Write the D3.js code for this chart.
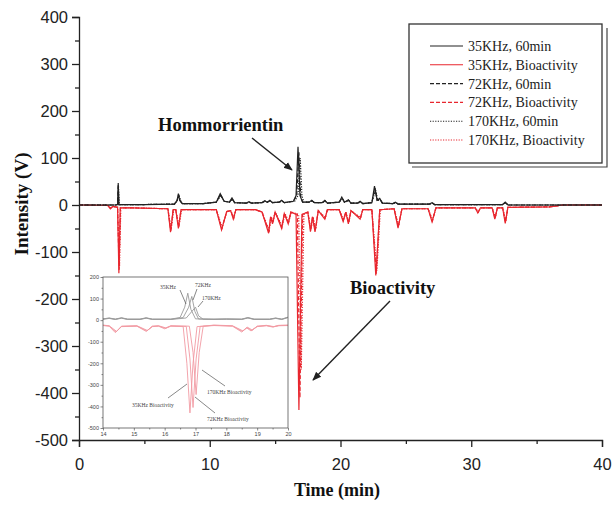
<!DOCTYPE html>
<html><head><meta charset="utf-8">
<script src="https://cdn.jsdelivr.net/npm/d3@7"></script>
<style>body{margin:0;background:#fff}svg{display:block}</style>
</head><body>
<svg id="c" width="615" height="507"></svg>
<script>
// ---------- DATA ----------
const xTicks = [0, 10, 20, 30, 40];
const yTicks = [-500, -400, -300, -200, -100, 0, 100, 200, 300, 400];
const insetXTicks = [14, 15, 16, 17, 18, 19, 20];
const insetYTicks = [-500, -400, -300, -200, -100, 0, 100, 200];
const legendLabels = ["35KHz, 60min", "35KHz, Bioactivity", "72KHz, 60min", "72KHz, Bioactivity", "170KHz, 60min", "170KHz, Bioactivity"];

// main chromatograms [time (min), intensity (V)]
const uv35 = [[0,0],[2.8,0],[2.95,1],[3.0,47],[3.05,1],[3.3,1],[5,1],[7.3,2],[7.5,10],[7.6,24],[7.7,10],[7.9,3],[9.5,3],[10.5,6],[10.8,24],[11.1,8],[11.5,6],[11.7,15],[11.9,5],[12.8,4],[13.0,7],[13.2,4],[14.0,5],[14.2,9],[14.4,6],[14.6,10],[14.8,5],[15.3,6],[15.5,10],[15.7,5],[16.4,8],[16.6,20],[16.75,124],[16.9,20],[17.1,6],[17.6,6],[17.8,10],[18.0,5],[18.6,5],[18.8,10],[19.0,4],[19.9,6],[20.1,17],[20.3,6],[20.6,11],[20.8,4],[21.3,4],[21.5,8],[21.7,3],[22.4,5],[22.6,40],[22.8,10],[23.0,14],[23.2,4],[24.0,3],[24.2,6],[24.4,2],[26.8,2],[27.0,5],[27.2,1],[32.4,1],[32.6,6],[32.8,0],[40,0]];
const bio35 = [[0,0],[2.2,-1],[2.4,-8],[2.6,-3],[2.95,-5],[3.05,-145],[3.15,-6],[4,-6],[6.8,-8],[7.0,-58],[7.2,-10],[7.4,-10],[7.6,-50],[7.8,-10],[10.5,-10],[10.9,-53],[11.3,-14],[11.6,-12],[11.8,-30],[12.0,-10],[13.5,-10],[14.0,-15],[14.5,-60],[14.65,-25],[14.8,-40],[15.0,-15],[15.5,-50],[15.7,-18],[16.0,-40],[16.2,-15],[16.6,-20],[16.82,-436],[17.05,-20],[17.5,-15],[17.7,-57],[17.85,-25],[18.05,-57],[18.3,-12],[18.8,-30],[19.0,-10],[19.9,-10],[20.2,-35],[20.4,-15],[20.6,-40],[20.8,-12],[21.5,-30],[21.7,-10],[22.4,-10],[22.7,-150],[23.0,-10],[24.1,-8],[24.4,-49],[24.7,-8],[26.7,-8],[27.0,-36],[27.3,-6],[30.3,-6],[30.5,-17],[30.7,-6],[31.6,-6],[31.8,-30],[32.0,-6],[32.4,-6],[32.6,-39],[32.8,-5],[36,-4],[37,0],[40,0]];
const uv72 = [[0,0],[2.8,0],[2.95,1],[3.0,44],[3.05,1],[3.3,1],[5,1],[7.3,2],[7.5,9],[7.62,22],[7.75,8],[7.9,3],[9.5,3],[10.5,6],[10.82,22],[11.1,8],[11.5,6],[11.72,13],[11.9,5],[12.8,4],[13.0,6],[13.2,4],[14.0,5],[14.22,8],[14.4,6],[14.62,9],[14.8,5],[15.3,6],[15.52,9],[15.7,5],[16.4,8],[16.65,20],[16.82,112],[16.95,20],[17.1,6],[17.6,6],[17.82,9],[18.0,5],[18.6,5],[18.82,9],[19.0,4],[19.9,6],[20.12,15],[20.3,6],[20.62,10],[20.8,4],[21.3,4],[21.52,7],[21.7,3],[22.4,5],[22.64,36],[22.8,10],[23.02,12],[23.2,4],[24.0,3],[24.22,5],[24.4,2],[26.8,2],[27.02,4],[27.2,1],[32.4,1],[32.62,5],[32.8,0],[40,0]];
const bio72 = [[0,0],[2.2,-1],[2.4,-7],[2.6,-3],[2.95,-5],[3.07,-138],[3.17,-6],[4,-6],[6.8,-8],[7.02,-55],[7.2,-10],[7.4,-10],[7.62,-47],[7.8,-10],[10.5,-10],[10.92,-50],[11.3,-14],[11.6,-12],[11.82,-28],[12.0,-10],[13.5,-10],[14.0,-15],[14.52,-56],[14.67,-25],[14.82,-38],[15.0,-15],[15.52,-47],[15.7,-18],[16.02,-37],[16.2,-15],[16.7,-20],[16.9,-410],[17.1,-20],[17.5,-15],[17.72,-54],[17.87,-25],[18.07,-54],[18.3,-12],[18.82,-28],[19.0,-10],[19.9,-10],[20.22,-33],[20.4,-15],[20.62,-38],[20.8,-12],[21.52,-28],[21.7,-10],[22.4,-10],[22.74,-146],[23.0,-10],[24.1,-8],[24.42,-46],[24.7,-8],[26.7,-8],[27.02,-34],[27.3,-6],[30.3,-6],[30.52,-16],[30.7,-6],[31.6,-6],[31.82,-28],[32.0,-6],[32.4,-6],[32.62,-36],[32.8,-5],[36,-4],[37,0],[40,0]];
const uv170 = [[0,0],[2.8,0],[2.95,1],[3.02,40],[3.08,1],[3.3,1],[5,1],[7.3,2],[7.5,8],[7.65,20],[7.8,8],[7.9,3],[9.5,3],[10.5,6],[10.85,20],[11.1,8],[11.5,6],[11.75,12],[11.9,5],[12.8,4],[13.0,6],[13.2,4],[14.0,5],[14.25,8],[14.4,6],[14.65,8],[14.8,5],[15.3,6],[15.55,8],[15.7,5],[16.5,8],[16.75,20],[16.92,100],[17.05,20],[17.2,6],[17.6,6],[17.85,9],[18.0,5],[18.6,5],[18.85,8],[19.0,4],[19.9,6],[20.15,14],[20.3,6],[20.65,9],[20.8,4],[21.3,4],[21.55,6],[21.7,3],[22.4,5],[22.68,33],[22.85,10],[23.05,11],[23.2,4],[24.0,3],[24.25,5],[24.4,2],[26.8,2],[27.05,4],[27.2,1],[32.4,1],[32.65,5],[32.8,0],[40,0]];
const bio170 = [[0,0],[2.2,-1],[2.4,-6],[2.6,-3],[2.95,-5],[3.1,-130],[3.2,-6],[4,-6],[6.8,-8],[7.05,-52],[7.25,-10],[7.4,-10],[7.65,-45],[7.85,-10],[10.5,-10],[10.95,-48],[11.3,-14],[11.6,-12],[11.85,-27],[12.0,-10],[13.5,-10],[14.0,-15],[14.55,-54],[14.7,-25],[14.85,-36],[15.0,-15],[15.55,-45],[15.75,-18],[16.05,-35],[16.25,-15],[16.8,-20],[17.0,-350],[17.2,-20],[17.5,-15],[17.75,-52],[17.9,-25],[18.1,-52],[18.3,-12],[18.85,-27],[19.0,-10],[19.9,-10],[20.25,-32],[20.4,-15],[20.65,-36],[20.8,-12],[21.55,-27],[21.7,-10],[22.4,-10],[22.78,-140],[23.05,-10],[24.1,-8],[24.45,-44],[24.7,-8],[26.7,-8],[27.05,-32],[27.3,-6],[30.3,-6],[30.55,-15],[30.7,-6],[31.6,-6],[31.85,-27],[32.0,-6],[32.4,-6],[32.65,-35],[32.8,-5],[36,-4],[37,0],[40,0]];

// inset (14-20 min) traces
const insUv35 = [[14,6],[14.2,10],[14.4,5],[14.6,11],[14.8,5],[15.2,5],[15.4,11],[15.6,5],[16.2,5],[16.5,12],[16.65,60],[16.75,125],[16.85,50],[17.0,6],[17.6,5],[18.0,6],[18.5,5],[18.7,12],[18.9,5],[19.4,5],[19.6,10],[19.8,5],[20,14]];
const insUv72 = [[14,5],[14.2,9],[14.4,4],[14.6,10],[14.8,4],[15.2,4],[15.4,10],[15.6,4],[16.2,4],[16.6,12],[16.78,60],[16.88,110],[16.98,40],[17.1,5],[17.6,4],[18.0,5],[18.5,4],[18.7,11],[18.9,4],[19.4,4],[19.6,9],[19.8,4],[20,13]];
const insUv170 = [[14,4],[14.2,8],[14.4,3],[14.6,9],[14.8,3],[15.2,3],[15.4,9],[15.6,3],[16.2,3],[16.7,10],[16.88,40],[17.0,60],[17.1,20],[17.25,4],[17.6,3],[18.0,4],[18.5,3],[18.7,10],[18.9,3],[19.4,3],[19.6,8],[19.8,3],[20,12]];
const insBio35 = [[14,-25],[14.2,-28],[14.4,-58],[14.6,-30],[15.1,-28],[15.4,-52],[15.6,-30],[15.8,-28],[16.0,-40],[16.2,-28],[16.6,-30],[16.72,-200],[16.82,-430],[16.92,-200],[17.05,-30],[17.6,-25],[18.2,-28],[18.5,-55],[18.65,-35],[18.8,-50],[19.0,-30],[19.3,-26],[19.5,-32],[19.7,-26],[20,-25]];
const insBio72 = [[14,-24],[14.2,-27],[14.42,-55],[14.6,-29],[15.1,-27],[15.42,-50],[15.6,-29],[15.8,-27],[16.02,-38],[16.2,-27],[16.7,-29],[16.82,-180],[16.92,-405],[17.02,-180],[17.15,-29],[17.6,-24],[18.2,-27],[18.52,-52],[18.67,-34],[18.82,-48],[19.0,-29],[19.3,-25],[19.52,-31],[19.7,-25],[20,-24]];
const insBio170 = [[14,-23],[14.2,-26],[14.44,-52],[14.6,-28],[15.1,-26],[15.44,-48],[15.6,-28],[15.8,-26],[16.04,-36],[16.2,-26],[16.8,-28],[16.92,-150],[17.02,-345],[17.12,-150],[17.25,-28],[17.6,-23],[18.2,-26],[18.54,-50],[18.69,-33],[18.84,-46],[19.0,-28],[19.3,-24],[19.54,-30],[19.7,-24],[20,-23]];

// ---------- DRAW ----------
const svg = d3.select("#c");
const BLACK = "#222", RED = "#e8262e", GREY = "#9a9a9a", PINK = "#f29aa3";
const DASH = [null, "4,2", "1.2,1.4"];
const sans = "'Liberation Sans', Arial, sans-serif";
const serif = "'Liberation Serif', 'Times New Roman', serif";
const fmt = d => String(d); // plain hyphen-minus, as in the reference

const x = d3.scaleLinear().domain([0, 40]).range([79, 602]);
const y = d3.scaleLinear().domain([-500, 400]).range([440, 17]);

const line = d3.line().x(d => x(d[0])).y(d => y(d[1]));
const mainSeries = [
  {d: bio170, c: RED, k: 2}, {d: bio72, c: RED, k: 1}, {d: bio35, c: RED, k: 0},
  {d: uv170, c: BLACK, k: 2}, {d: uv72, c: BLACK, k: 1}, {d: uv35, c: BLACK, k: 0}
];
svg.append("g").selectAll("path").data(mainSeries).join("path")
  .attr("d", s => line(s.d)).attr("fill", "none").attr("stroke", s => s.c)
  .attr("stroke-width", 1.2).attr("stroke-dasharray", s => DASH[s.k]);

// axes
function styleAxis(g, fs) {
  g.select(".domain").attr("stroke", BLACK).attr("stroke-width", 1.3);
  g.selectAll(".tick line").attr("stroke", BLACK).attr("stroke-width", 1.3);
  g.selectAll(".tick text").attr("font-family", sans).attr("font-size", fs).attr("fill", "#222");
}
const gx = svg.append("g").attr("transform", "translate(0,440)")
  .call(d3.axisBottom(x).tickValues(xTicks).tickSize(7).tickPadding(11).tickFormat(fmt));
styleAxis(gx, 16.5);
svg.append("g").attr("transform", "translate(0,440)")
  .call(d3.axisBottom(x).tickValues(d3.range(5, 40, 10)).tickSize(4).tickFormat(""))
  .call(g => { g.select(".domain").remove(); g.selectAll("line").attr("stroke", BLACK).attr("stroke-width", 1.3); });
const gy = svg.append("g").attr("transform", "translate(79,0)")
  .call(d3.axisLeft(y).tickValues(yTicks).tickSize(7).tickPadding(4).tickFormat(fmt));
styleAxis(gy, 16.5);
svg.append("g").attr("transform", "translate(79,0)")
  .call(d3.axisLeft(y).tickValues(d3.range(-450, 400, 100)).tickSize(4).tickFormat(""))
  .call(g => { g.select(".domain").remove(); g.selectAll("line").attr("stroke", BLACK).attr("stroke-width", 1.3); });

svg.append("text").attr("x", 337).attr("y", 496).attr("text-anchor", "middle")
  .attr("font-family", serif).attr("font-weight", "bold").attr("font-size", 18).attr("fill", "#111").text("Time (min)");
svg.append("text").attr("transform", "translate(28,204) rotate(-90)").attr("text-anchor", "middle")
  .attr("font-family", serif).attr("font-weight", "bold").attr("font-size", 19).attr("fill", "#111").text("Intensity (V)");

// arrows
const defs = svg.append("defs");
defs.append("marker").attr("id", "ah").attr("viewBox", "0 0 10 10").attr("refX", 9).attr("refY", 5)
  .attr("markerWidth", 9).attr("markerHeight", 9).attr("markerUnits", "userSpaceOnUse").attr("orient", "auto")
  .append("path").attr("d", "M0,1 L10,5 L0,9 Z").attr("fill", BLACK);
svg.append("text").attr("x", 158).attr("y", 131).attr("font-family", serif).attr("font-weight", "bold")
  .attr("font-size", 18.5).attr("fill", "#111").text("Hommorrientin");
svg.append("line").attr("x1", 252).attr("y1", 138).attr("x2", 292).attr("y2", 170)
  .attr("stroke", BLACK).attr("stroke-width", 1.4).attr("marker-end", "url(#ah)");
svg.append("text").attr("x", 350).attr("y", 294).attr("font-family", serif).attr("font-weight", "bold")
  .attr("font-size", 18.5).attr("fill", "#111").text("Bioactivity");
svg.append("line").attr("x1", 390).attr("y1", 301).attr("x2", 313).attr("y2", 380)
  .attr("stroke", BLACK).attr("stroke-width", 1.4).attr("marker-end", "url(#ah)");

// legend
const lg = svg.append("g");
lg.append("path").attr("d", "M607,28 V167 H412").attr("fill", "none").attr("stroke", "#444").attr("stroke-width", 1.2);
lg.append("rect").attr("x", 409).attr("y", 24).attr("width", 193).attr("height", 139)
  .attr("fill", "#fff").attr("stroke", "#333").attr("stroke-width", 1.3);
const legItems = legendLabels.map((t, i) => ({t, c: i % 2 ? RED : BLACK, k: Math.floor(i / 2)}));
const le = lg.selectAll("g.le").data(legItems).join("g").attr("class", "le")
  .attr("transform", (d, i) => `translate(0,${46 + i * 18.8})`);
le.append("line").attr("x1", 430).attr("x2", 463).attr("stroke", d => d.c).attr("stroke-width", 1.1)
  .attr("stroke-dasharray", d => DASH[d.k]);
le.append("text").attr("x", 468).attr("y", 0).attr("dy", "0.35em").attr("font-family", serif)
  .attr("font-size", 14).attr("fill", "#222").text(d => d.t);

// inset
const xi = d3.scaleLinear().domain([14, 20]).range([103, 288]);
const yi = d3.scaleLinear().domain([-500, 200]).range([428, 277]);
const ig = svg.append("g");
ig.append("rect").attr("x", 103).attr("y", 277).attr("width", 185).attr("height", 151).attr("fill", "#fff");
const iline = d3.line().x(d => xi(d[0])).y(d => yi(d[1]));
const insetSeries = [
  {d: insBio170, c: PINK}, {d: insBio72, c: PINK}, {d: insBio35, c: PINK},
  {d: insUv170, c: GREY}, {d: insUv72, c: GREY}, {d: insUv35, c: GREY}
];
ig.append("g").selectAll("path").data(insetSeries).join("path")
  .attr("d", s => iline(s.d)).attr("fill", "none").attr("stroke", s => s.c).attr("stroke-width", 0.9);
ig.append("rect").attr("x", 103).attr("y", 277).attr("width", 185).attr("height", 151)
  .attr("fill", "none").attr("stroke", "#555").attr("stroke-width", 0.8);
function styleInset(g) {
  g.select(".domain").remove();
  g.selectAll(".tick line").attr("stroke", "#555").attr("stroke-width", 0.7);
  g.selectAll(".tick text").attr("font-family", sans).attr("font-size", 5.5).attr("fill", "#444");
}
ig.append("g").attr("transform", "translate(0,428)")
  .call(d3.axisBottom(xi).tickValues(insetXTicks).tickSize(2.5).tickPadding(1.5).tickFormat(fmt)).call(styleInset);
ig.append("g").attr("transform", "translate(0,428)")
  .call(d3.axisBottom(xi).tickValues(d3.range(14.5, 20, 1)).tickSize(1.5).tickFormat("")).call(styleInset);
ig.append("g").attr("transform", "translate(103,0)")
  .call(d3.axisLeft(yi).tickValues(insetYTicks).tickSize(2.5).tickPadding(1.5).tickFormat(fmt)).call(styleInset);
ig.append("g").attr("transform", "translate(103,0)")
  .call(d3.axisLeft(yi).tickValues(d3.range(-450, 200, 100)).tickSize(1.5).tickFormat("")).call(styleInset);

const insetNotes = [
  {t: "35KHz", x: 160, y: 289, lx1: 180, ly1: 290, lx2: 186, ly2: 304},
  {t: "72KHz", x: 195, y: 287, lx1: 197, ly1: 289, lx2: 193, ly2: 300},
  {t: "170KHz", x: 202, y: 300, lx1: 203, ly1: 301, lx2: 198, ly2: 307},
  {t: "35KHz Bioactivity", x: 132, y: 407, lx1: 168, ly1: 398, lx2: 187, ly2: 384},
  {t: "170KHz Bioactivity", x: 207, y: 394, lx1: 225, ly1: 386, lx2: 202, ly2: 370},
  {t: "72KHz Bioactivity", x: 207, y: 421, lx1: 215, ly1: 413, lx2: 195, ly2: 397}
];
ig.selectAll("line.note").data(insetNotes).join("line").attr("class", "note")
  .attr("x1", d => d.lx1).attr("y1", d => d.ly1).attr("x2", d => d.lx2).attr("y2", d => d.ly2)
  .attr("stroke", "#555").attr("stroke-width", 0.7);
ig.selectAll("text.note").data(insetNotes).join("text").attr("class", "note")
  .attr("x", d => d.x).attr("y", d => d.y).attr("font-family", serif).attr("font-size", 5.5)
  .attr("fill", "#444").text(d => d.t);
</script>
</body></html>
